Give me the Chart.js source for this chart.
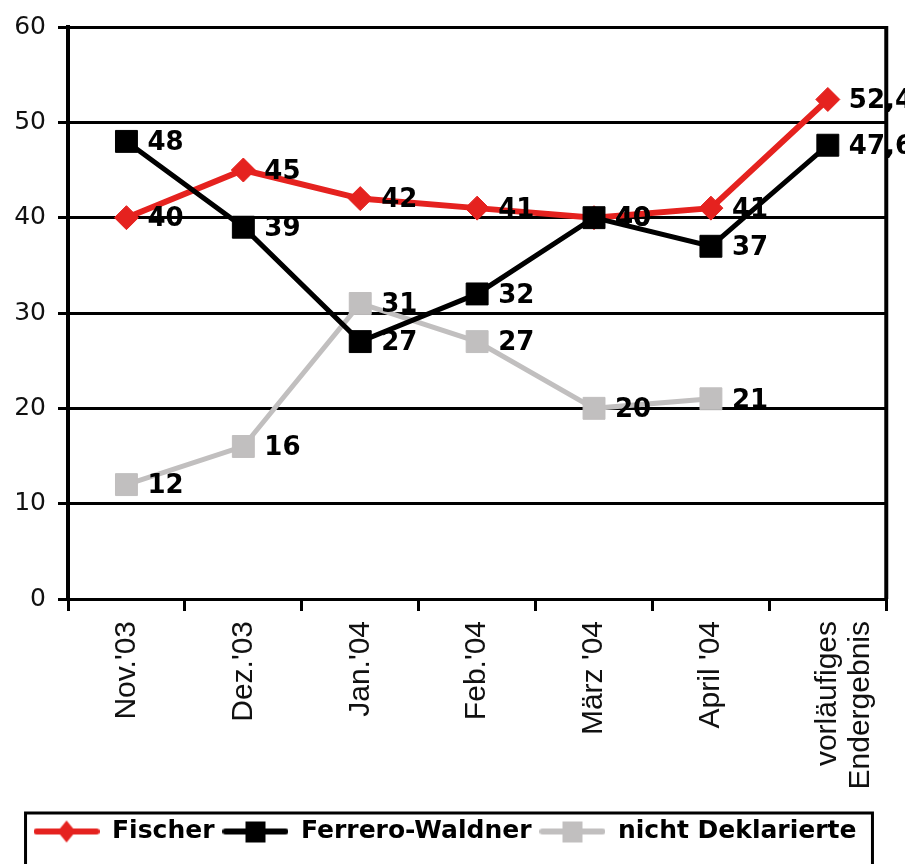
<!DOCTYPE html>
<html>
<head>
<meta charset="utf-8">
<script src="https://cdn.jsdelivr.net/npm/chart.js@4"></script>
<style>
html, body { margin: 0; padding: 0; background: #fff; }
#wrap { width: 905px; height: 864px; }
</style>
</head>
<body>
<div id="wrap"><canvas id="myChart"></canvas></div>
<script>
// data
var labels = ["Nov.'03", "Dez.'03", "Jan.'04", "Feb.'04", "März '04", "April '04", ["vorläufiges", "Endergebnis"]];
var fischer = [40, 45, 42, 41, 40, 41, 52.4];
var ferrero = [48, 39, 27, 32, 40, 37, 47.6];
var nichtDeklariert = [12, 16, 31, 27, 20, 21, null];
var yMin = 0, yMax = 60, yStep = 10;

var RED = '#e5221f';
var BLACK = '#000000';
var GREY = '#c1bfbf';

// legend symbol: line with marker in the middle
function legendIcon(color, diamond) {
    var c = document.createElement('canvas');
    c.width = 66;
    c.height = 26;
    var g = c.getContext('2d');
    g.strokeStyle = color;
    g.lineWidth = 6;
    g.lineCap = 'round';
    g.beginPath();
    g.moveTo(3, 13);
    g.lineTo(63, 13);
    g.stroke();
    g.fillStyle = color;
    g.beginPath();
    if (diamond) {
        g.moveTo(33, 2);
        g.lineTo(42, 13);
        g.lineTo(33, 24);
        g.lineTo(24, 13);
        g.closePath();
    } else {
        g.rect(23, 3, 20, 21);
    }
    g.fill();
    return c;
}
var icons = [legendIcon(RED, true), legendIcon(BLACK, false), legendIcon(GREY, false)];

var valueLabels = {
    id: 'valueLabels',
    afterDatasetsDraw: function(chart) {
        var ctx = chart.ctx;
        ctx.save();
        ctx.font = 'bold 26px "DejaVu Sans", sans-serif';
        ctx.fillStyle = '#000';
        ctx.textAlign = 'left';
        ctx.textBaseline = 'middle';
        chart.data.datasets.forEach(function(ds, i) {
            var meta = chart.getDatasetMeta(i);
            meta.data.forEach(function(pt, j) {
                var v = ds.data[j];
                if (v === null || v === undefined) return;
                ctx.fillText(String(v).replace('.', ','), pt.x + 21, pt.y + 2);
            });
        });
        ctx.restore();
    }
};

var frame = {
    id: 'frame',
    afterDraw: function(chart) {
        var ctx = chart.ctx;
        var a = chart.chartArea;
        ctx.save();
        ctx.strokeStyle = '#000';
        ctx.lineWidth = 4;
        ctx.beginPath();
        ctx.moveTo(a.right, a.top - 1);
        ctx.lineTo(a.right, a.bottom);
        ctx.stroke();
        // legend box
        var boxes = chart.legend.legendHitBoxes;
        if (boxes && boxes.length) {
            var first = boxes[0], last = boxes[boxes.length - 1];
            var left = first.left - 8;
            var right = last.left + last.width + 16;
            var top = first.top - 6;
            ctx.lineWidth = 3;
            ctx.strokeRect(left, top, right - left, chart.height - top + 4);
        }
        ctx.restore();
    }
};

var ctx = document.getElementById('myChart').getContext('2d');
var pollChart = new Chart(ctx, {
    type: 'line',
    data: {
        labels: labels,
        datasets: [
            {
                label: 'Fischer',
                data: fischer,
                borderColor: RED,
                backgroundColor: RED,
                borderWidth: 6,
                pointStyle: 'rectRot',
                pointRadius: 12,
                pointBorderWidth: 1,
                order: 2,
                fill: false
            },
            {
                label: 'Ferrero-Waldner',
                data: ferrero,
                borderColor: BLACK,
                backgroundColor: BLACK,
                borderWidth: 5,
                pointStyle: 'rect',
                pointRadius: 15.5,
                pointBorderWidth: 1,
                order: 1,
                fill: false
            },
            {
                label: 'nicht Deklarierte',
                data: nichtDeklariert,
                borderColor: GREY,
                backgroundColor: GREY,
                borderWidth: 5,
                pointStyle: 'rect',
                pointRadius: 15.5,
                pointBorderWidth: 1,
                order: 3,
                fill: false
            }
        ]
    },
    options: {
        responsive: true,
        maintainAspectRatio: false,
        animation: false,
        layout: { padding: { top: 22, right: 15, bottom: 10, left: 0 } },
        scales: {
            x: {
                offset: true,
                afterFit: function(s) { s.height = 212; },
                border: { display: true, color: '#000', width: 3 },
                grid: {
                    offset: true,
                    drawOnChartArea: false,
                    color: '#000',
                    lineWidth: 3,
                    tickLength: 12
                },
                ticks: {
                    autoSkip: false,
                    maxRotation: 90,
                    minRotation: 90,
                    padding: 10,
                    color: '#111',
                    font: { family: '"Liberation Sans", Arial, sans-serif', size: 30, lineHeight: 1.1 }
                }
            },
            y: {
                min: yMin,
                max: yMax,
                afterFit: function(s) { s.width = 68; },
                border: { display: true, color: '#000', width: 4 },
                grid: {
                    color: '#000',
                    lineWidth: 3,
                    tickLength: 10
                },
                ticks: {
                    stepSize: yStep,
                    padding: 12,
                    color: '#111',
                    font: { family: '"DejaVu Sans", sans-serif', size: 25 }
                }
            }
        },
        plugins: {
            tooltip: { enabled: false },
            legend: {
                position: 'bottom',
                labels: {
                    usePointStyle: true,
                    pointStyleWidth: 66,
                    padding: 8,
                    color: '#000',
                    font: { family: '"DejaVu Sans", sans-serif', size: 25, weight: 'bold' },
                    generateLabels: function(chart) {
                        return chart.data.datasets.map(function(ds, i) {
                            return {
                                text: ds.label,
                                pointStyle: icons[i],
                                fillStyle: ds.borderColor,
                                strokeStyle: ds.borderColor,
                                lineWidth: 0,
                                hidden: false,
                                datasetIndex: i,
                                fontColor: '#000'
                            };
                        });
                    }
                }
            }
        }
    },
    plugins: [valueLabels, frame]
});
</script>
</body>
</html>
